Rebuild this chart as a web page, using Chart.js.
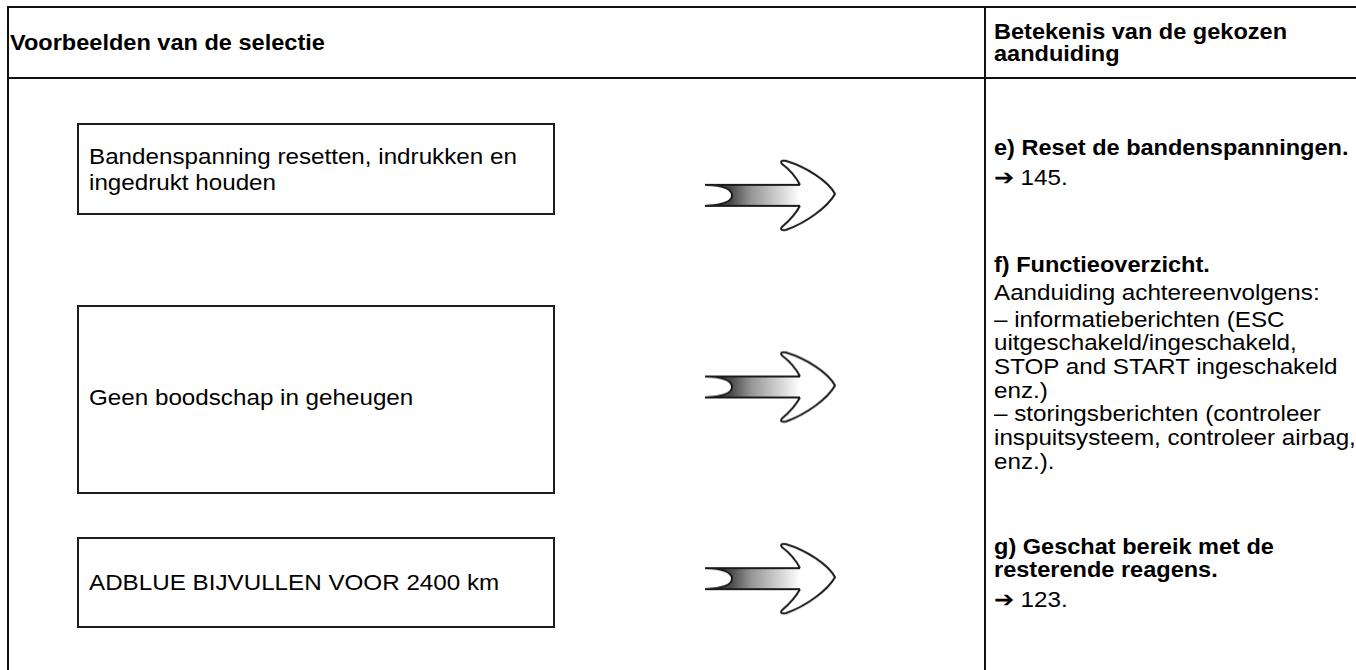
<!DOCTYPE html>
<html>
<head>
<meta charset="utf-8">
<script src="https://cdn.jsdelivr.net/npm/chart.js"></script>
<style>
body {
    margin: 0;
    width: 1356px;
    height: 670px;
    overflow: hidden;
    background: #fff;
    color: #000;
    position: relative;
    font-family: "Liberation Sans", Arial, sans-serif;
}
.line {
    position: absolute;
    white-space: nowrap;
    font-size: 22px;
    line-height: 24px;
    transform-origin: 0 50%;
    transform: scaleX(1.10);
}
.b { font-weight: bold; transform: scaleX(1.07); }
.rule { position: absolute; background: #111; }
.box { position: absolute; border: 2px solid #1c1c1c; box-sizing: border-box; }
#arrows { position: absolute; left: 560px; top: 58px; }
</style>
</head>
<body>
<div class="rule" style="left:7px;top:6px;width:2px;height:700px"></div>
<div class="rule" style="left:7px;top:6px;width:1400px;height:2px"></div>
<div class="rule" style="left:7px;top:77px;width:1400px;height:2px"></div>
<div class="rule" style="left:984px;top:6px;width:2px;height:700px"></div>
<canvas id="arrows" width="420" height="657"></canvas>

<script>
// column headers
var headerLeft = ['Voorbeelden van de selectie'];
var headerRight = ['Betekenis van de gekozen', 'aanduiding'];

// what the display shows (left boxes)
var selections = [
    ['Bandenspanning resetten, indrukken en', 'ingedrukt houden'],
    ['Geen boodschap in geheugen'],
    ['ADBLUE BIJVULLEN VOOR 2400 km']
];

// meaning column
var meaningTitles = [
    ['e) Reset de bandenspanningen.'],
    ['f) Functieoverzicht.'],
    ['g) Geschat bereik met de', 'resterende reagens.']
];
var meaningTexts = [
    ['\u2794 145.'],
    ['Aanduiding achtereenvolgens:',
     '\u2013  informatieberichten (ESC',
     'uitgeschakeld/ingeschakeld,',
     'STOP and START ingeschakeld',
     'enz.)',
     '\u2013  storingsberichten (controleer',
     'inspuitsysteem, controleer airbag,',
     'enz.).'],
    ['\u2794 123.']
];

// layout
var boxTops = [123, 305, 537];
var boxBottoms = [214, 493, 627];
var selLineY = [[157, 183], [398], [583]];
var titleY = [[148], [265], [547, 570]];
var textY = [[178], [293, 320, 343, 367, 391, 414, 438, 462], [600]];

function addLine(txt, x, cy, bold) {
    var d = document.createElement('div');
    d.className = 'line' + (bold ? ' b' : '');
    d.textContent = txt;
    d.style.left = x + 'px';
    d.style.top = (cy - 12) + 'px';
    document.body.appendChild(d);
}

addLine(headerLeft[0], 10, 43, true);
headerRight.forEach(function (t, i) { addLine(t, 994, 32 + i * 22, true); });

selections.forEach(function (lines, i) {
    var b = document.createElement('div');
    b.className = 'box';
    b.style.left = '77px';
    b.style.width = (555 - 77) + 'px';
    b.style.top = boxTops[i] + 'px';
    b.style.height = (boxBottoms[i] - boxTops[i] + 1) + 'px';
    document.body.appendChild(b);
    lines.forEach(function (t, j) { addLine(t, 89, selLineY[i][j], false); });
});

meaningTitles.forEach(function (lines, i) {
    lines.forEach(function (t, j) { addLine(t, 994, titleY[i][j], true); });
    meaningTexts[i].forEach(function (t, j) { addLine(t, 994, textY[i][j], false); });
});

// arrow drawn once, used as point style
function makeArrow() {
    var c = document.createElement('canvas');
    c.width = 140;
    c.height = 76;
    var g = c.getContext('2d');
    g.translate(70, 38);

    var grad = g.createLinearGradient(-40, 0, 30, 0);
    grad.addColorStop(0, '#484848');
    grad.addColorStop(0.3, '#959595');
    grad.addColorStop(1, '#ffffff');

    g.beginPath();
    g.moveTo(-65, -10);
    g.lineTo(31, -10);
    g.lineTo(31, 11);
    g.lineTo(-65, 11);
    g.bezierCurveTo(-46, 10, -38, 6, -38, 0.5);
    g.bezierCurveTo(-38, -5, -46, -10, -65, -10);
    g.closePath();
    g.fillStyle = grad;
    g.fill();

    g.strokeStyle = '#1a1a1a';
    g.lineWidth = 2;
    g.beginPath();
    g.moveTo(30, -10);
    g.lineTo(-65, -10);
    g.bezierCurveTo(-46, -10, -38, -5, -38, 0.5);
    g.bezierCurveTo(-38, 6, -46, 10, -65, 11);
    g.lineTo(30, 11);
    g.stroke();

    // head
    g.beginPath();
    g.moveTo(30, -10);
    g.quadraticCurveTo(24, -22, 12, -31);
    g.quadraticCurveTo(9, -35, 16, -34);
    g.bezierCurveTo(36, -28, 58, -14, 65, -1);
    g.bezierCurveTo(58, 12, 36, 28, 16, 35);
    g.quadraticCurveTo(9, 36, 12, 32);
    g.quadraticCurveTo(24, 22, 30, 11);
    g.fillStyle = '#fff';
    g.fill();
    g.stroke();
    return c;
}

// one arrow per row, row index on a linear axis
var rowIndex = selections.map(function (l, i) { return i; });

new Chart(document.getElementById('arrows'), {
    type: 'scatter',
    data: {
        datasets: [{
            label: selections.map(function (l) { return l.join(' '); }).join(' | '),
            data: rowIndex.map(function (r) { return { x: 0, y: r }; }),
            pointStyle: makeArrow(),
            pointRadius: 40,
            showLine: false
        }]
    },
    options: {
        responsive: false,
        animation: false,
        events: [],
        layout: { padding: 0 },
        plugins: { legend: { display: false }, tooltip: { enabled: false } },
        scales: {
            x: { type: 'linear', min: -0.5, max: 0.5, display: false },
            y: { type: 'linear', min: -0.5, max: rowIndex.length - 0.5, reverse: true, display: false }
        }
    }
});
</script>
</body>
</html>
